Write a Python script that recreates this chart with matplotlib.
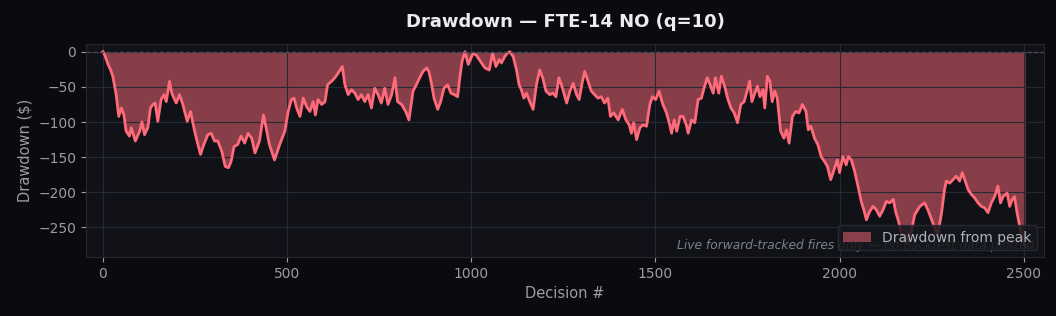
import matplotlib
matplotlib.use("Agg")
import numpy as np
import matplotlib.pyplot as plt

# Drawdown values (decision #, $)
decisions = [
    0, 3, 14, 21, 27, 36, 43, 50, 57, 63, 72, 77, 88, 100, 106, 113, 122, 129,
    136, 142, 149, 158, 166, 172, 181, 187, 199, 208, 217, 229, 238, 249, 258,
    265, 274, 285, 294, 303, 312, 323, 332, 341, 348, 356, 366, 375, 385, 394,
    404, 413, 425, 436, 443, 452, 466, 480, 489, 494, 500, 503, 509, 512, 519,
    526, 535, 544, 553, 562, 571, 577, 584, 594, 603, 610, 621, 630, 639, 650,
    657, 666, 675, 684, 693, 702, 711, 720, 729, 738, 747, 756, 765, 774, 784,
    793, 800, 811, 822, 831, 842, 851, 860, 869, 879, 885, 892, 899, 909, 917,
    926, 936, 945, 954, 963, 969, 975, 983, 992, 1001, 1005, 1014, 1028, 1037,
    1049, 1058, 1067, 1076, 1082, 1091, 1098, 1105, 1114, 1123, 1130, 1136,
    1143, 1150, 1159, 1168, 1177, 1186, 1194, 1203, 1213, 1222, 1230, 1238,
    1248, 1259, 1268, 1277, 1286, 1293, 1302, 1308, 1317, 1326, 1335, 1344,
    1353, 1362, 1371, 1378, 1387, 1399, 1410, 1420, 1429, 1435, 1441, 1449,
    1458, 1467, 1476, 1485, 1492, 1501, 1510, 1519, 1530, 1539, 1544, 1551,
    1558, 1567, 1575, 1584, 1589, 1598, 1607, 1616, 1625, 1632, 1641, 1650,
    1657, 1663, 1672, 1679, 1688, 1696, 1705, 1714, 1723, 1732, 1741, 1750,
    1756, 1762, 1770, 1777, 1784, 1792, 1797, 1804, 1811, 1817, 1824, 1831,
    1840, 1849, 1856, 1863, 1872, 1881, 1890, 1899, 1909, 1915, 1922, 1932,
    1941, 1950, 1959, 1967, 1976, 1985, 1994, 2000, 2009, 2018, 2024, 2032,
    2041, 2050, 2059, 2067, 2073, 2082, 2091, 2100, 2109, 2118, 2127, 2136,
    2146, 2152, 2159, 2170, 2182, 2195, 2204, 2218, 2231, 2240, 2250, 2258,
    2266, 2277, 2285, 2290, 2299, 2308, 2317, 2326, 2333, 2340, 2349, 2358,
    2367, 2376, 2385, 2394, 2403, 2412, 2421, 2430, 2437, 2444, 2455, 2462,
    2469, 2475, 2482, 2489, 2498, 2504,
]
drawdown = [
    0, -2, -18, -26, -35, -61, -92, -80, -90, -113, -120, -108, -127, -113,
    -100, -118, -108, -80, -75, -73, -99, -68, -61, -71, -42, -59, -73, -61,
    -75, -99, -85, -113, -132, -146, -132, -118, -116, -127, -127, -142, -163,
    -165, -156, -135, -132, -120, -130, -116, -123, -144, -127, -90, -108,
    -132, -154, -132, -120, -113, -94, -85, -73, -68, -66, -80, -92, -66, -78,
    -85, -71, -90, -68, -75, -71, -47, -42, -37, -30, -21, -47, -61, -54, -59,
    -68, -61, -71, -61, -80, -52, -61, -73, -52, -75, -61, -37, -71, -75, -85,
    -97, -56, -47, -37, -28, -23, -28, -45, -66, -82, -71, -52, -47, -59, -61,
    -64, -37, -14, 0, -18, -7, -2, -5, -16, -23, -26, -2, -21, -11, -16, -7,
    -2, 0, -7, -26, -47, -54, -66, -59, -71, -82, -47, -26, -37, -56, -61,
    -59, -64, -37, -52, -73, -56, -45, -61, -68, -42, -28, -42, -56, -61, -66,
    -64, -73, -66, -92, -87, -97, -82, -97, -104, -116, -101, -125, -108,
    -104, -106, -75, -64, -68, -56, -73, -87, -104, -116, -97, -113, -92, -92,
    -104, -116, -97, -101, -68, -66, -52, -37, -49, -59, -37, -59, -35, -49,
    -66, -80, -87, -101, -75, -71, -54, -42, -71, -59, -49, -64, -54, -80,
    -35, -42, -71, -56, -66, -113, -123, -111, -130, -92, -85, -87, -75, -85,
    -111, -106, -123, -132, -149, -156, -163, -182, -168, -154, -172, -149,
    -161, -149, -154, -170, -191, -213, -227, -239, -227, -220, -225, -234,
    -225, -213, -215, -210, -227, -239, -262, -272, -255, -232, -220, -215,
    -225, -239, -250, -262, -229, -196, -184, -187, -182, -177, -184, -172,
    -182, -196, -203, -208, -215, -220, -222, -229, -215, -206, -191, -215,
    -206, -201, -220, -210, -206, -229, -248, -267, -278,
]

x = np.array(decisions)
dd = np.array(drawdown)

fig = plt.figure(figsize=(10.56, 3.16), dpi=100, facecolor="#0b0b0f")
ax = fig.add_axes([0.0814, 0.1867, 0.9072, 0.6741])
ax.set_facecolor("#111217")

red = "#ff6b7a"
ax.fill_between(x, dd, 0, color=red, alpha=0.5, linewidth=0,
                label="Drawdown from peak")
ax.plot(x, dd, color=red, linewidth=2.0)
ax.axhline(0, color="#4a4d57", linestyle="--", linewidth=0.9)

ax.grid(True, color="#262833", linewidth=0.8)
for s in ax.spines.values():
    s.set_color("#262833")

ax.set_xlim(-46, 2555)
ax.set_ylim(-292, 11)
ax.set_xticks([0, 500, 1000, 1500, 2000, 2500])
ax.set_yticks([0, -50, -100, -150, -200, -250])
ax.tick_params(colors="#9a9da6", labelsize=10, color="#9a9da6")

ax.set_title("Drawdown — FTE-14 NO (q=10)", color="#ececf0",
             fontsize=13, fontweight="bold", pad=12)
ax.set_xlabel("Decision #", color="#9a9da6", fontsize=10.5)
ax.set_ylabel("Drawdown ($)", color="#9a9da6", fontsize=10.5)

ax.text(0.99, 0.025, "Live forward-tracked fires only — no backtest data plotted",
        transform=ax.transAxes, ha="right", va="bottom", fontsize=8.8,
        style="italic", color="#7d808a")

leg = ax.legend(loc="lower right", fontsize=10, facecolor="#16171d",
                edgecolor="#2a2d37", framealpha=0.85, labelcolor="#b0b3bd")
leg.get_patches()[0].set_edgecolor(red)

fig.savefig("out.png", dpi=100, facecolor=fig.get_facecolor())
